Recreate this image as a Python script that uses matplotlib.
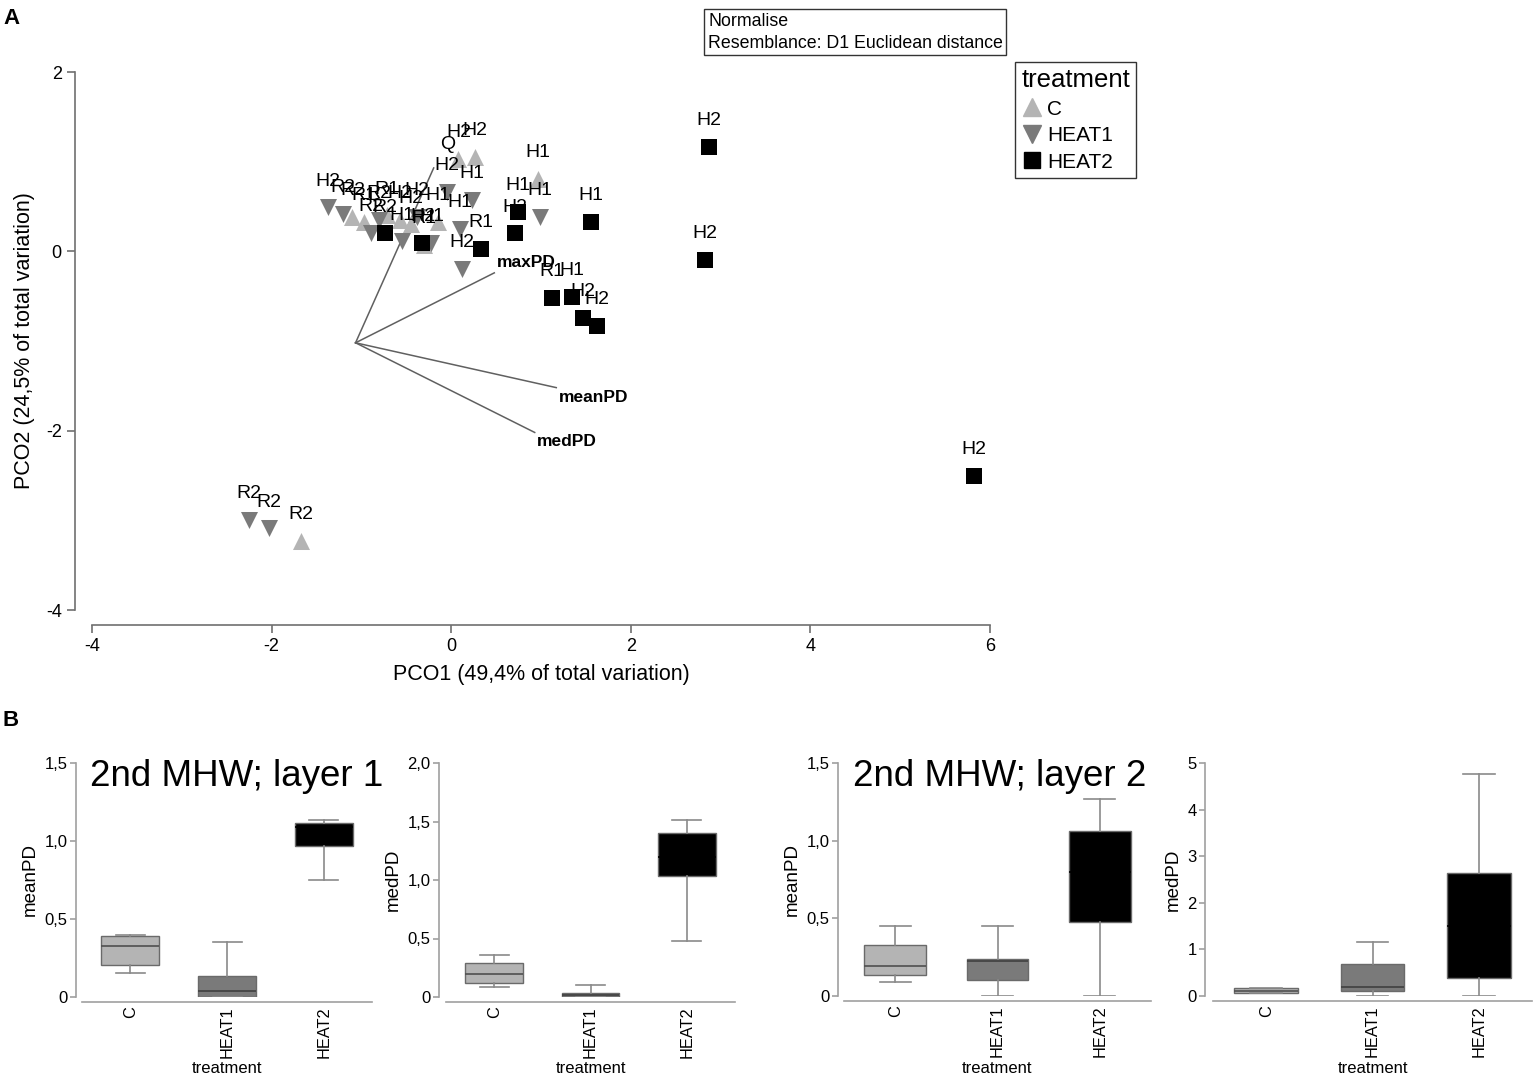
import matplotlib
matplotlib.use("Agg")
import matplotlib.pyplot as plt
from matplotlib.lines import Line2D

plt.rcParams['font.family'] = ['Liberation Sans', 'DejaVu Sans']
plt.rcParams['axes.unicode_minus'] = False

W, H = 1535, 1077

# ---- panel A: PCO scores ----
c_x = [-1.67, 0.08, 0.26, 0.97, -1.10, -0.97, -0.57, -0.30, -0.15, -0.72, -0.45]
c_y = [-3.23, 1.03, 1.05, 0.81, 0.38, 0.33, 0.35, 0.07, 0.33, 0.40, 0.30]
c_lab = ["R2", "H2", "H2", "H1", "R2", "R1", "H2", "R1", "H1", "R1", "H2"]

h1_x = [-2.25, -2.03, -1.37, -1.21, -0.89, -0.55, -0.22, -0.05, 0.23, 0.10, 0.12, 0.99, -0.38, -0.80]
h1_y = [-3.00, -3.09, 0.49, 0.42, 0.21, 0.11, 0.09, 0.66, 0.57, 0.25, -0.20, 0.38, 0.38, 0.35]
h1_lab = ["R2", "R2", "H2", "R2", "R2", "H1", "H1", "H2", "H1", "H1", "H2", "H1", "H2", "R2"]

h2_x = [2.87, 2.83, 5.82, 1.56, 0.74, 0.71, 1.12, 1.34, 1.47, 1.62, 0.33, -0.74, -0.32]
h2_y = [1.165, -0.095, -2.50, 0.33, 0.44, 0.20, -0.52, -0.51, -0.74, -0.83, 0.03, 0.20, 0.09]
h2_lab = ["H2", "H2", "H2", "H1", "H1", "H2", "R1", "H1", "H2", "H2", "R1", "R2", "H2"]

vec_origin = (-1.065, -1.02)
vec_names = ["Q", "maxPD", "meanPD", "medPD"]
vec_end_x = [-0.195, 0.48, 1.17, 0.93]
vec_end_y = [0.93, -0.24, -1.52, -2.02]
vec_lab_x = [-0.04, 0.84, 1.59, 1.29]
vec_lab_y = [1.19, -0.12, -1.63, -2.12]

# ---- panel B: box plot stats (whislo, q1, med, q3, whishi) ----
groups = ["C", "HEAT1", "HEAT2"]
mean_l1 = [[0.154, 0.207, 0.327, 0.393, 0.395],
           [0.0, 0.0, 0.036, 0.137, 0.35],
           [0.748, 0.968, 1.09, 1.115, 1.137]]
med_l1 = [[0.083, 0.122, 0.20, 0.293, 0.356],
          [0.0, 0.0, 0.014, 0.037, 0.103],
          [0.476, 1.031, 1.20, 1.40, 1.513]]
mean_l2 = [[0.092, 0.133, 0.193, 0.328, 0.449],
           [0.0, 0.103, 0.223, 0.24, 0.449],
           [0.0, 0.474, 0.80, 1.06, 1.27]]
med_l2 = [[0.06, 0.07, 0.10, 0.17, 0.18],
          [0.0, 0.10, 0.20, 0.68, 1.16],
          [0.0, 0.38, 1.50, 2.64, 4.76]]

col_c = "#b4b4b4"
col_h1 = "#7a7a7a"
col_h2 = "#000000"
axis_col = "#808080"

fig = plt.figure(figsize=(W / 100, H / 100), dpi=100)


def px_axes(left, top, right, bottom):
    return fig.add_axes([left / W, 1 - bottom / H, (right - left) / W, (bottom - top) / H])


def px_text(x, y, s, **kw):
    fig.text(x / W, 1 - y / H, s, **kw)


def style_axes(ax, lo, bo, col=axis_col, tl=6):
    for sp in ["top", "right"]:
        ax.spines[sp].set_visible(False)
    ax.spines["left"].set_position(("outward", lo))
    ax.spines["bottom"].set_position(("outward", bo))
    for sp in ["left", "bottom"]:
        ax.spines[sp].set_color(col)
        ax.spines[sp].set_linewidth(1.2)
    ax.tick_params(color=col, width=1.2, length=tl, direction="out")
    ax.patch.set_alpha(0)


# ---------------- panel A ----------------
axA = px_axes(92, 72, 990, 610)
axA.set_xlim(-4, 6)
axA.set_ylim(-4, 2)
style_axes(axA, 12.2, 10.8, col="#707070")
axA.set_xticks([-4, -2, 0, 2, 4, 6])
axA.set_yticks([-4, -2, 0, 2])
axA.tick_params(labelsize=13)
axA.set_xlabel("PCO1 (49,4% of total variation)", fontsize=15.5, labelpad=6)
axA.set_ylabel("PCO2 (24,5% of total variation)", fontsize=15.5, labelpad=8)

for ex, ey, lx, ly, nm in zip(vec_end_x, vec_end_y, vec_lab_x, vec_lab_y, vec_names):
    axA.plot([vec_origin[0], ex], [vec_origin[1], ey], color="#606060", lw=1.1, zorder=1)
    if nm == "Q":
        axA.text(lx, ly, nm, fontsize=14, ha="center", va="center", zorder=5)
    else:
        axA.text(lx, ly, nm, fontsize=12.5, fontweight="bold", ha="center", va="center", zorder=5)

axA.scatter(c_x, c_y, marker="^", s=150, color=col_c, zorder=3, clip_on=False, linewidths=0)
axA.scatter(h1_x, h1_y, marker="v", s=150, color=col_h1, zorder=3, clip_on=False, linewidths=0)
axA.scatter(h2_x, h2_y, marker="s", s=120, color=col_h2, zorder=3, clip_on=False, linewidths=0)

for xs, ys, labs in [(c_x, c_y, c_lab), (h1_x, h1_y, h1_lab), (h2_x, h2_y, h2_lab)]:
    for x, y, lab in zip(xs, ys, labs):
        axA.annotate(lab, (x, y), xytext=(0, 19), textcoords="offset points",
                     ha="center", va="center", fontsize=14, zorder=4)

px_text(708, 13, "Normalise\nResemblance: D1 Euclidean distance", fontsize=12.8, ha="left", va="top",
        linespacing=1.35,
        bbox=dict(boxstyle="square,pad=0.2", fc="white", ec="#333333", lw=1))

handles = [Line2D([], [], marker="^", ls="", color=col_c, markersize=13),
           Line2D([], [], marker="v", ls="", color=col_h1, markersize=13),
           Line2D([], [], marker="s", ls="", color=col_h2, markersize=11)]
leg = fig.legend(handles, groups, title="treatment", loc="upper left",
                 bbox_to_anchor=(1015 / W, 1 - 62 / H), fontsize=15, title_fontsize=18.5,
                 frameon=True, fancybox=False, edgecolor="#333333", framealpha=1,
                 handlelength=1.0, handletextpad=0.25, borderpad=0.3, labelspacing=0.36,
                 borderaxespad=0)
leg.get_frame().set_linewidth(1)
leg._legend_box.align = "left"

px_text(3, 18, "A", fontsize=16, fontweight="bold", ha="left", va="center")
px_text(3, 720, "B", fontsize=16, fontweight="bold", ha="left", va="center")

# ---------------- panel B ----------------
box_cols = [col_c, col_h1, col_h2]
med_cols = ["#505050", "#404040", "#000000"]


def draw_box(ax, stats, ylim, yticks, yticklabels, ylabel, bottom_px, height_px):
    for i, st in enumerate(stats):
        d = dict(whislo=st[0], q1=st[1], med=st[2], q3=st[3], whishi=st[4], fliers=[])
        ax.bxp([d], positions=[i + 1], widths=0.6, capwidths=0.3, showfliers=False,
               patch_artist=True,
               boxprops=dict(facecolor=box_cols[i], edgecolor="#6a6a6a", lw=1),
               medianprops=dict(color=med_cols[i], lw=1.2),
               whiskerprops=dict(color="#8a8a8a", lw=1.2),
               capprops=dict(color="#8a8a8a", lw=1.2))
    ax.set_xlim(0.5, 3.5)
    ax.set_ylim(*ylim)
    ax.set_yticks(yticks)
    ax.set_yticklabels(yticklabels, fontsize=12)
    ax.tick_params(axis="y", pad=2)
    ax.set_xticks([1, 2, 3])
    ax.set_xticklabels(groups, rotation=90, fontsize=11.8)
    ax.tick_params(axis="x", length=0, pad=3)
    ax.set_xlabel("treatment", fontsize=12)
    ax.xaxis.set_label_coords(0.5, -(1061 - bottom_px) / height_px)
    ax.set_ylabel(ylabel, fontsize=13.5, labelpad=4)


ax1 = px_axes(82, 763, 372, 997)
style_axes(ax1, 4.3, 3.6, col="#a0a0a0", tl=4)
draw_box(ax1, mean_l1, (0, 1.5), [0, 0.5, 1.0, 1.5], ["0", "0,5", "1,0", "1,5"], "meanPD", 997, 234)

ax2 = px_axes(446, 763, 735, 997)
style_axes(ax2, 5.0, 3.6, col="#a0a0a0", tl=4)
draw_box(ax2, med_l1, (0, 2.0), [0, 0.5, 1.0, 1.5, 2.0], ["0", "0,5", "1,0", "1,5", "2,0"], "medPD", 997, 234)

ax3 = px_axes(844, 763, 1151, 996)
style_axes(ax3, 4.3, 3.6, col="#a0a0a0", tl=4)
draw_box(ax3, mean_l2, (0, 1.5), [0, 0.5, 1.0, 1.5], ["0", "0,5", "1,0", "1,5"], "meanPD", 996, 233)

ax4 = px_axes(1213, 763, 1532, 996)
style_axes(ax4, 5.8, 3.6, col="#a0a0a0", tl=4)
draw_box(ax4, med_l2, (0, 5), [0, 1, 2, 3, 4, 5], ["0", "1", "2", "3", "4", "5"], "medPD", 996, 233)

px_text(90, 776, "2nd MHW; layer 1", fontsize=26.5, ha="left", va="center")
px_text(853, 776, "2nd MHW; layer 2", fontsize=26.5, ha="left", va="center")

fig.savefig("out.png", dpi=100)
